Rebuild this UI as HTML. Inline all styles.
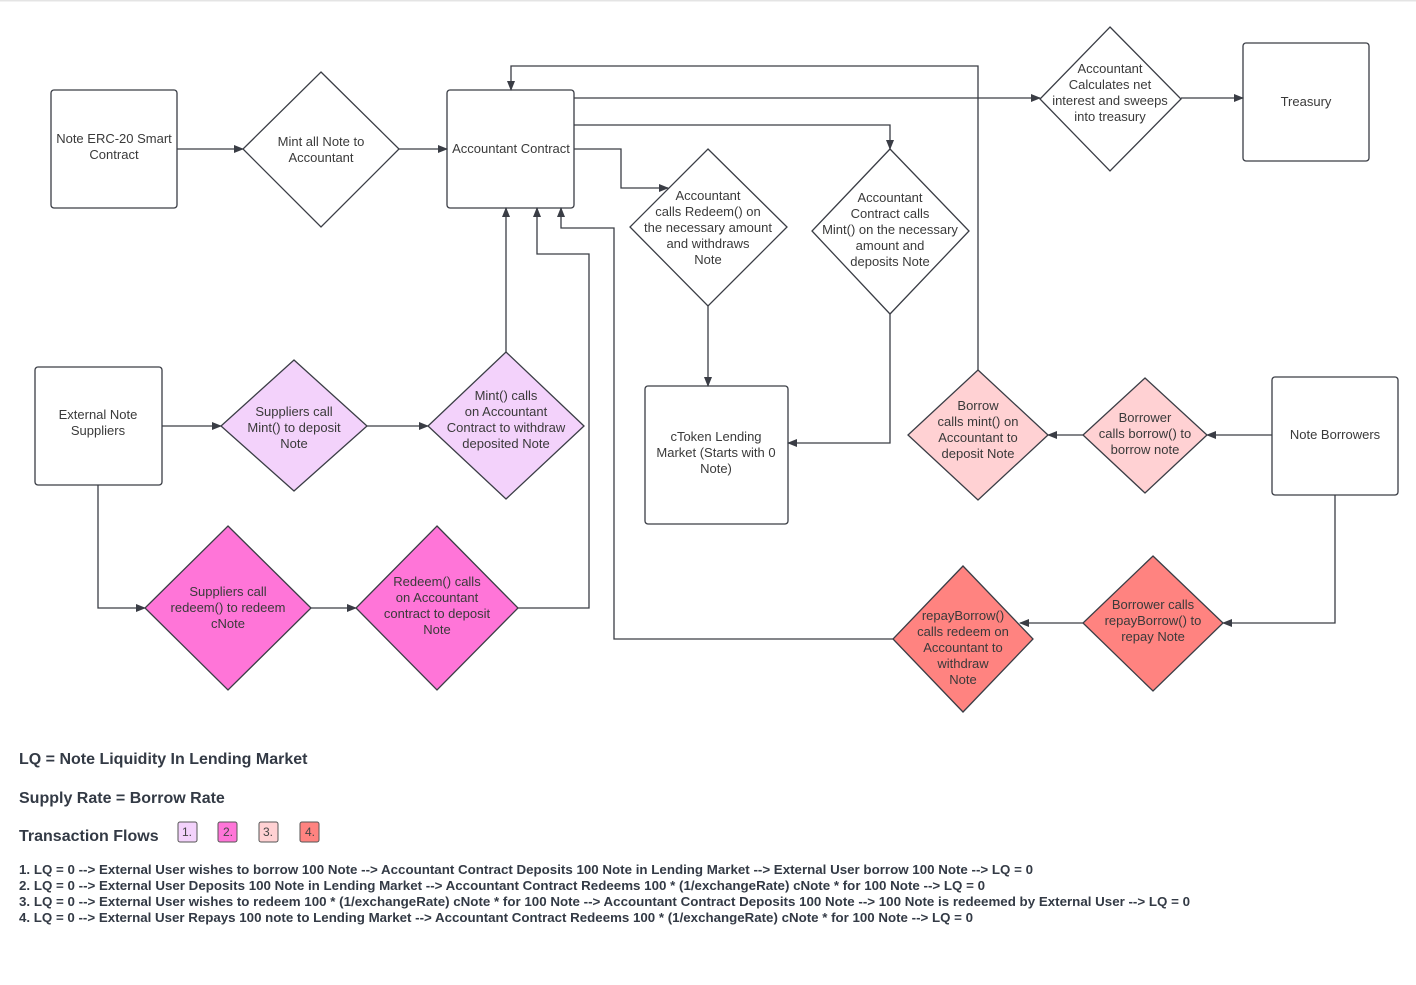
<!DOCTYPE html>
<html><head><meta charset="utf-8"><style>
html,body{margin:0;padding:0;background:#fff;}
svg{display:block;font-family:"Liberation Sans",Arial,sans-serif;}
.t{font-size:13px;fill:#3a3a3a;text-anchor:middle;}
.b{fill:#fff;stroke:#3a3d45;stroke-width:1.3;}
.l{fill:none;stroke:#3a3d45;stroke-width:1.3;}
.h{font-size:16px;font-weight:bold;fill:#333a45;}
.f{font-size:12.5px;font-weight:bold;fill:#333a45;}
</style></head><body>
<svg width="1416" height="985" viewBox="0 0 1416 985" xmlns="http://www.w3.org/2000/svg">
<defs><marker id="a" markerWidth="10" markerHeight="8" refX="9" refY="4" orient="auto" markerUnits="userSpaceOnUse"><path d="M0,0 L10,4 L0,8 Z" fill="#3a3d45"/></marker></defs>
<rect x="0" y="0" width="1416" height="1.5" fill="#e4e4e4"/>
<rect class="b" x="51" y="90" width="126" height="118" rx="3"/>
<rect class="b" x="447" y="90" width="127" height="118" rx="3"/>
<rect class="b" x="1243" y="43" width="126" height="118" rx="3"/>
<rect class="b" x="35" y="367" width="127" height="118" rx="3"/>
<rect class="b" x="645" y="386" width="143" height="138" rx="3"/>
<rect class="b" x="1272" y="377" width="126" height="118" rx="3"/>
<path class="b" d="M321,72 L399,149 L321,227 L243,149 Z"/>
<path class="b" d="M708,149 L787,227 L708,306 L630,227 Z"/>
<path class="b" d="M890,149 L969,231 L890,314 L812,231 Z"/>
<path class="b" d="M1110,27 L1181,99 L1110,171 L1040,99 Z"/>
<path class="b" style="fill:#f3d2fb" d="M294,360 L367,426 L294,491 L221,426 Z"/>
<path class="b" style="fill:#f3d2fb" d="M506,352 L584,426 L506,499 L428,426 Z"/>
<path class="b" style="fill:#ff75d8" d="M228,526 L311,608 L228,690 L145,608 Z"/>
<path class="b" style="fill:#ff75d8" d="M437,526 L518,608 L437,690 L356,608 Z"/>
<path class="b" style="fill:#ffd1d3" d="M978,370 L1048,435 L978,500 L908,435 Z"/>
<path class="b" style="fill:#ffd1d3" d="M1145,378 L1207,435 L1145,493 L1083,435 Z"/>
<path class="b" style="fill:#ff8380" d="M963,566 L1033,639 L963,712 L893,639 Z"/>
<path class="b" style="fill:#ff8380" d="M1153,556 L1223,623 L1153,691 L1083,623 Z"/>
<path class="l" marker-end="url(#a)" d="M177,149 L243,149"/>
<path class="l" marker-end="url(#a)" d="M399,149 L447,149"/>
<path class="l" marker-end="url(#a)" d="M574,98 L1040,98"/>
<path class="l" marker-end="url(#a)" d="M1181,98 L1243,98"/>
<path class="l" marker-end="url(#a)" d="M574,125 L890,125 L890,149"/>
<path class="l" marker-end="url(#a)" d="M574,149 L621,149 L621,188 L668,188"/>
<path class="l" marker-end="url(#a)" d="M708,306 L708,386"/>
<path class="l" marker-end="url(#a)" d="M890,314 L890,443 L788,443"/>
<path class="l" marker-end="url(#a)" d="M978,370 L978,66 L511,66 L511,90"/>
<path class="l" marker-end="url(#a)" d="M162,426 L221,426"/>
<path class="l" marker-end="url(#a)" d="M367,426 L428,426"/>
<path class="l" marker-end="url(#a)" d="M506,352 L506,208"/>
<path class="l" marker-end="url(#a)" d="M98,485 L98,608 L145,608"/>
<path class="l" marker-end="url(#a)" d="M311,608 L356,608"/>
<path class="l" marker-end="url(#a)" d="M518,608 L589,608 L589,254 L537,254 L537,208"/>
<path class="l" marker-end="url(#a)" d="M893,639 L614,639 L614,228 L561,228 L561,208"/>
<path class="l" marker-end="url(#a)" d="M1272,435 L1207,435"/>
<path class="l" marker-end="url(#a)" d="M1083,435 L1048,435"/>
<path class="l" marker-end="url(#a)" d="M1335,495 L1335,623 L1223,623"/>
<path class="l" marker-end="url(#a)" d="M1083,623 L1020,623"/>
<text class="t"><tspan x="114" y="143">Note ERC-20 Smart</tspan><tspan x="114" y="159">Contract</tspan></text>
<text class="t"><tspan x="321" y="146">Mint all Note to</tspan><tspan x="321" y="162">Accountant</tspan></text>
<text class="t" x="511" y="153">Accountant Contract</text>
<text class="t"><tspan x="1110" y="73">Accountant</tspan><tspan x="1110" y="89">Calculates net</tspan><tspan x="1110" y="105">interest and sweeps</tspan><tspan x="1110" y="121">into treasury</tspan></text>
<text class="t" x="1306" y="106">Treasury</text>
<text class="t"><tspan x="708" y="200">Accountant</tspan><tspan x="708" y="216">calls Redeem() on</tspan><tspan x="708" y="232">the necessary amount</tspan><tspan x="708" y="248">and withdraws</tspan><tspan x="708" y="264">Note</tspan></text>
<text class="t"><tspan x="890" y="202">Accountant</tspan><tspan x="890" y="218">Contract calls</tspan><tspan x="890" y="234">Mint() on the necessary</tspan><tspan x="890" y="250">amount and</tspan><tspan x="890" y="266">deposits Note</tspan></text>
<text class="t"><tspan x="98" y="419">External Note</tspan><tspan x="98" y="435">Suppliers</tspan></text>
<text class="t"><tspan x="294" y="416">Suppliers call</tspan><tspan x="294" y="432">Mint() to deposit</tspan><tspan x="294" y="448">Note</tspan></text>
<text class="t"><tspan x="506" y="400">Mint() calls</tspan><tspan x="506" y="416">on Accountant</tspan><tspan x="506" y="432">Contract to withdraw</tspan><tspan x="506" y="448">deposited Note</tspan></text>
<text class="t"><tspan x="716" y="441">cToken Lending</tspan><tspan x="716" y="457">Market (Starts with 0</tspan><tspan x="716" y="473">Note)</tspan></text>
<text class="t"><tspan x="978" y="410">Borrow</tspan><tspan x="978" y="426">calls mint() on</tspan><tspan x="978" y="442">Accountant to</tspan><tspan x="978" y="458">deposit Note</tspan></text>
<text class="t"><tspan x="1145" y="422">Borrower</tspan><tspan x="1145" y="438">calls borrow() to</tspan><tspan x="1145" y="454">borrow note</tspan></text>
<text class="t" x="1335" y="439">Note Borrowers</text>
<text class="t"><tspan x="228" y="596">Suppliers call</tspan><tspan x="228" y="612">redeem() to redeem</tspan><tspan x="228" y="628">cNote</tspan></text>
<text class="t"><tspan x="437" y="586">Redeem() calls</tspan><tspan x="437" y="602">on Accountant</tspan><tspan x="437" y="618">contract to deposit</tspan><tspan x="437" y="634">Note</tspan></text>
<text class="t"><tspan x="963" y="620">repayBorrow()</tspan><tspan x="963" y="636">calls redeem on</tspan><tspan x="963" y="652">Accountant to</tspan><tspan x="963" y="668">withdraw</tspan><tspan x="963" y="684">Note</tspan></text>
<text class="t"><tspan x="1153" y="609">Borrower calls</tspan><tspan x="1153" y="625">repayBorrow() to</tspan><tspan x="1153" y="641">repay Note</tspan></text>
<text class="h" x="19" y="764">LQ = Note Liquidity In Lending Market</text>
<text class="h" x="19" y="803">Supply Rate = Borrow Rate</text>
<text class="h" x="19" y="841">Transaction Flows</text>
<rect x="178" y="822" width="19" height="20" rx="2" fill="#f3d2fb" stroke="#555" stroke-width="1"/>
<rect x="218" y="822" width="19" height="20" rx="2" fill="#ff75d8" stroke="#555" stroke-width="1"/>
<rect x="259" y="822" width="19" height="20" rx="2" fill="#ffd1d3" stroke="#555" stroke-width="1"/>
<rect x="300" y="822" width="19" height="20" rx="2" fill="#ff8380" stroke="#555" stroke-width="1"/>
<text style="font-size:12px;fill:#444;text-anchor:middle"><tspan x="187" y="836">1.</tspan><tspan x="228" y="836">2.</tspan><tspan x="268" y="836">3.</tspan><tspan x="310" y="836">4.</tspan></text>
<text class="f" x="19" y="874" textLength="1014" lengthAdjust="spacingAndGlyphs">1.  LQ = 0 --&gt; External User wishes to borrow 100 Note --&gt; Accountant Contract Deposits 100 Note in Lending Market --&gt; External User borrow 100 Note --&gt; LQ = 0</text>
<text class="f" x="19" y="890" textLength="966" lengthAdjust="spacingAndGlyphs">2. LQ = 0 --&gt; External User Deposits 100 Note in Lending Market --&gt;  Accountant Contract Redeems 100 * (1/exchangeRate) cNote * for 100 Note --&gt; LQ = 0</text>
<text class="f" x="19" y="906" textLength="1171" lengthAdjust="spacingAndGlyphs">3. LQ = 0 --&gt; External User wishes to redeem 100 * (1/exchangeRate) cNote * for 100 Note --&gt;  Accountant Contract Deposits 100 Note --&gt; 100 Note is redeemed by External User --&gt; LQ = 0</text>
<text class="f" x="19" y="922" textLength="954" lengthAdjust="spacingAndGlyphs">4. LQ = 0 --&gt; External User Repays 100 note to Lending Market --&gt; Accountant Contract Redeems 100 * (1/exchangeRate) cNote * for 100 Note --&gt; LQ = 0</text>
</svg>
</body></html>
